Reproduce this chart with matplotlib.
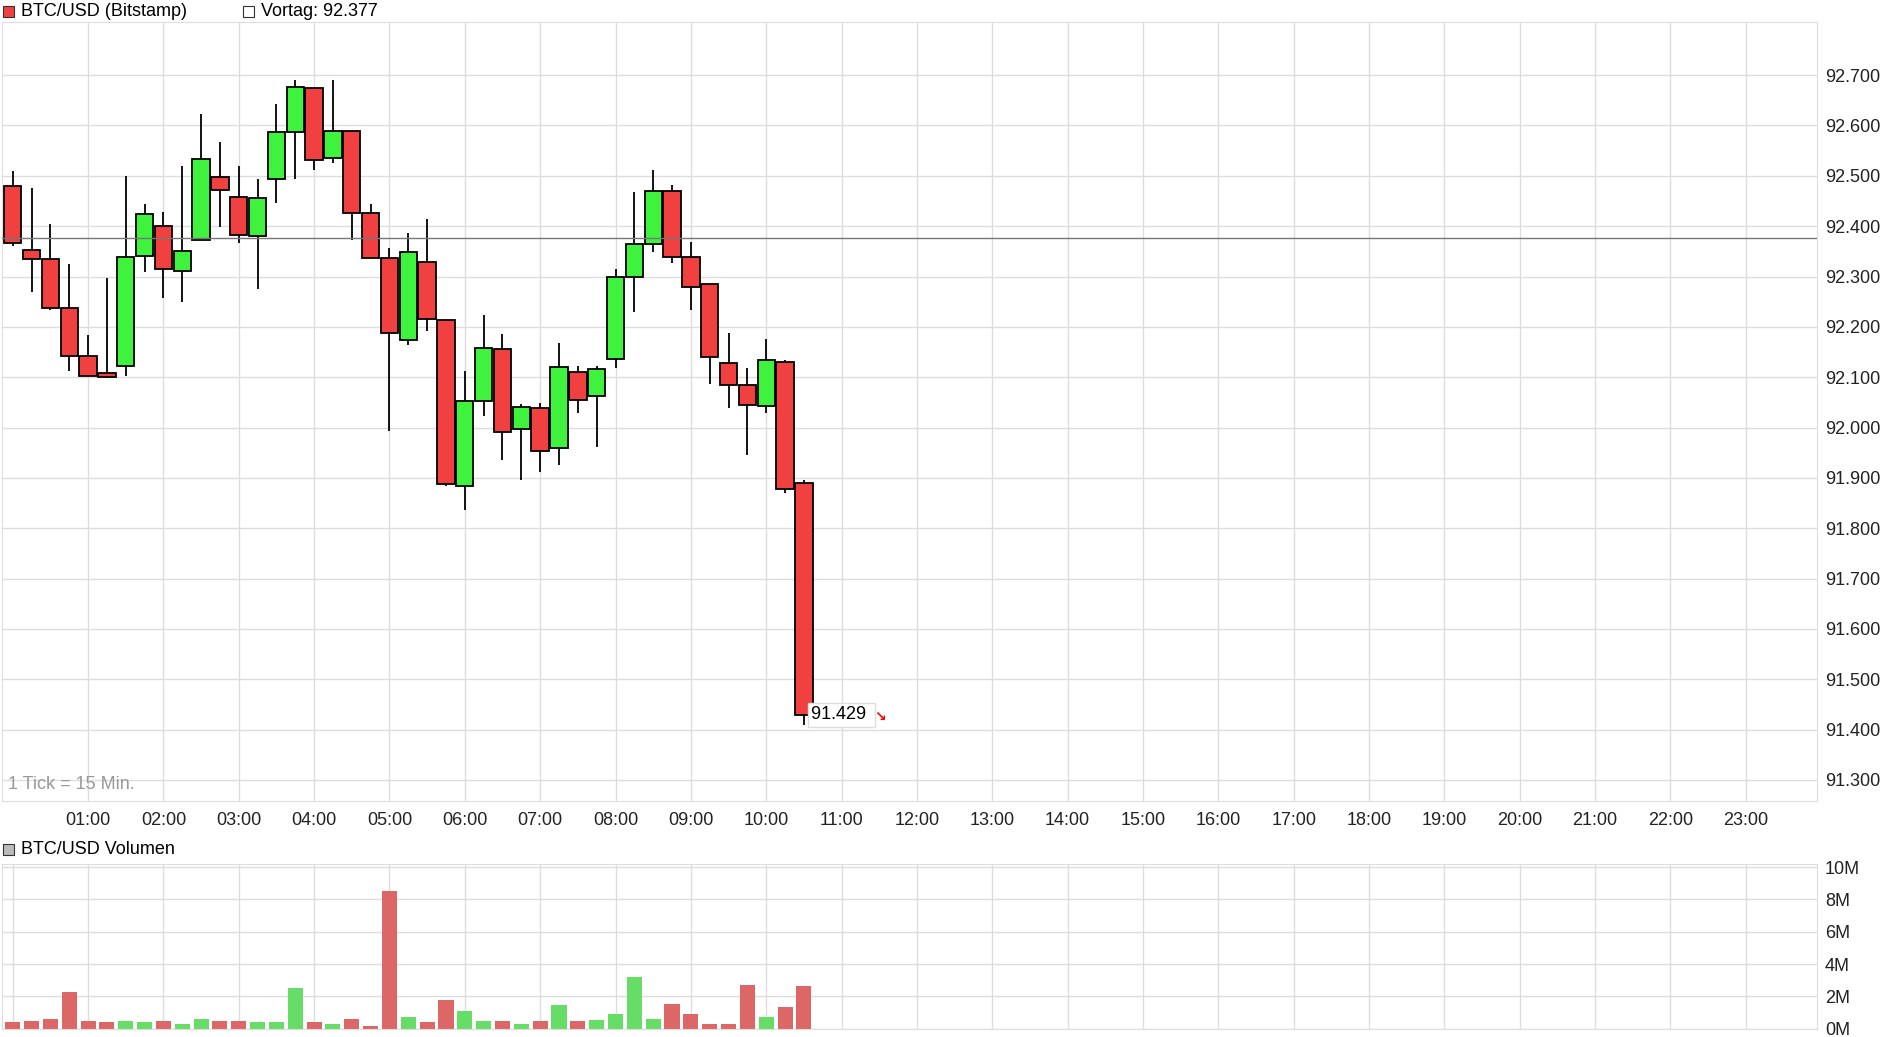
import numpy as np
import matplotlib.pyplot as plt
from matplotlib.patches import Rectangle
from matplotlib.ticker import FuncFormatter, MultipleLocator

plt.rcParams['font.family'] = ['Liberation Sans', 'DejaVu Sans']

# 15-Minuten-Kerzen ab 00:00
opens = [92.480, 92.353, 92.335, 92.238, 92.142, 92.109, 92.123, 92.341, 92.400, 92.311,
         92.373, 92.498, 92.458, 92.381, 92.494, 92.587, 92.674, 92.535, 92.589, 92.426,
         92.337, 92.174, 92.329, 92.214, 91.883, 92.053, 92.156, 91.998, 92.039, 91.960,
         92.111, 92.063, 92.137, 92.299, 92.365, 92.470, 92.339, 92.285, 92.129, 92.085,
         92.043, 92.131, 91.890]
closes = [92.367, 92.335, 92.238, 92.142, 92.103, 92.101, 92.339, 92.424, 92.315, 92.351,
          92.533, 92.472, 92.383, 92.456, 92.587, 92.676, 92.531, 92.589, 92.426, 92.337,
          92.188, 92.349, 92.216, 91.887, 92.053, 92.158, 91.992, 92.041, 91.954, 92.121,
          92.055, 92.117, 92.299, 92.365, 92.470, 92.339, 92.279, 92.140, 92.085, 92.045,
          92.135, 91.877, 91.429]
highs = [92.510, 92.475, 92.404, 92.324, 92.183, 92.297, 92.499, 92.445, 92.428, 92.519,
         92.622, 92.568, 92.519, 92.493, 92.642, 92.691, 92.674, 92.691, 92.589, 92.445,
         92.356, 92.386, 92.414, 92.214, 92.112, 92.223, 92.185, 92.047, 92.049, 92.168,
         92.123, 92.123, 92.315, 92.467, 92.512, 92.482, 92.369, 92.285, 92.188, 92.119,
         92.176, 92.135, 91.895]
lows = [92.361, 92.270, 92.234, 92.113, 92.103, 92.099, 92.103, 92.308, 92.258, 92.250,
        92.373, 92.399, 92.367, 92.276, 92.447, 92.494, 92.512, 92.526, 92.373, 92.337,
        91.994, 92.163, 92.191, 91.883, 91.836, 92.023, 91.936, 91.896, 91.912, 91.926,
        92.029, 91.962, 92.119, 92.230, 92.349, 92.327, 92.234, 92.087, 92.039, 91.946,
        92.029, 91.869, 91.410]
volumes = [0.4, 0.5, 0.6, 2.3, 0.5, 0.4, 0.5, 0.4, 0.5, 0.3,
           0.6, 0.5, 0.45, 0.4, 0.4, 2.5, 0.4, 0.3, 0.6, 0.15,
           8.5, 0.7, 0.4, 1.75, 1.1, 0.45, 0.5, 0.3, 0.5, 1.45,
           0.5, 0.55, 0.9, 3.2, 0.6, 1.5, 0.9, 0.3, 0.3, 2.7,
           0.75, 1.35, 2.65]
prev_close = 92.377
price_ticks = [91.3, 91.4, 91.5, 91.6, 91.7, 91.8, 91.9, 92.0, 92.1, 92.2, 92.3, 92.4, 92.5, 92.6, 92.7]
hour_labels = [f"{h:02d}:00" for h in range(1, 24)]

t = np.arange(len(opens)) * 0.25
o = np.array(opens); c = np.array(closes)
up = c >= o

fig = plt.figure(figsize=(18.8, 10.37), dpi=100)
ax = fig.add_axes([0.0013, 0.228, 0.965, 0.751])
axv = fig.add_axes([0.0013, 0.008, 0.965, 0.159])

grid_c = '#dddddd'
for a in (ax, axv):
    a.set_xlim(-0.136, 23.94)
    a.xaxis.set_major_locator(MultipleLocator(1))
    a.grid(True, color=grid_c, linewidth=1)
    a.set_axisbelow(True)
    a.yaxis.tick_right()
    a.tick_params(length=0, labelsize=13, colors='#222222', pad=6)
    for s in a.spines.values():
        s.set_color(grid_c)

# Kerzen
ax.vlines(t, lows, highs, color='black', linewidth=1.3, zorder=2)
ax.bar(t, np.abs(c - o), bottom=np.minimum(o, c), width=0.23,
       color=np.where(up, '#3ef23e', '#f04040'), edgecolor='black', linewidth=1.3, zorder=3)
ax.axhline(prev_close, color='#777777', linewidth=1, zorder=4)

ax.set_ylim(91.259, 92.806)
ax.set_yticks(price_ticks)
ax.yaxis.set_major_formatter(FuncFormatter(lambda v, p: f"{v:.3f}"))
ax.set_xticks(range(1, 24))
ax.set_xticklabels(hour_labels)
ax.tick_params(axis='x', pad=8)

ax.text(t[-1] + 0.1, closes[-1], f"{closes[-1]:.3f} ", fontsize=13, va='center', ha='left',
        zorder=5, bbox=dict(facecolor='white', edgecolor='#dddddd', pad=2, boxstyle='square,pad=0.2'))
ax.text(t[-1] + 0.93, closes[-1] - 0.003, '↘', fontsize=10, color='red', fontweight='bold',
        va='center', ha='left', zorder=6, family=['DejaVu Sans'])
ax.text(0.003, 0.015, '1 Tick = 15 Min.', transform=ax.transAxes, fontsize=13, color='#999999')

# Volumen
axv.bar(t, volumes, width=0.2, color=np.where(up, '#66dd66', '#dd6666'), zorder=2)
axv.set_ylim(0, 10.2)
axv.set_yticks([0, 2, 4, 6, 8, 10])
axv.yaxis.set_major_formatter(FuncFormatter(lambda v, p: f"{v:.0f}M"))
axv.tick_params(axis='x', labelbottom=False)

# Kopfzeilen mit Kaestchen
def legend_box(x, y, color, label):
    fig.patches.append(Rectangle((x, y - 0.0055), 0.0058, 0.0106, transform=fig.transFigure,
                                 facecolor=color, edgecolor='#333333', linewidth=0.8))
    fig.text(x + 0.0095, y, label, fontsize=13, va='center')

legend_box(0.0015, 0.989, '#f04040', 'BTC/USD (Bitstamp)')
legend_box(0.1295, 0.989, 'white', 'Vortag: 92.377')
legend_box(0.0015, 0.181, '#bbbbbb', 'BTC/USD Volumen')

fig.savefig('out.png', dpi=100)
